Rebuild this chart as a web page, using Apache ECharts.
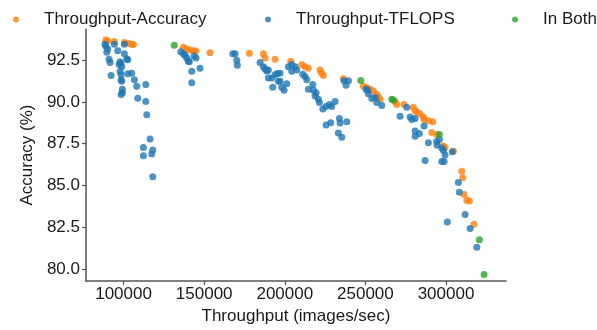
<!DOCTYPE html>
<html>
<head>
<meta charset="utf-8">
<script src="https://cdn.jsdelivr.net/npm/echarts@6/dist/echarts.min.js"></script>
<style>
  html, body { margin: 0; padding: 0; background: #fff; }
  #chart { width: 597px; height: 330px; }
</style>
</head>
<body>
<div id="chart"></div>
<script>
// tick labels
const xTicks = [100000, 150000, 200000, 250000, 300000];
const yTicks = [80.0, 82.5, 85.0, 87.5, 90.0, 92.5];

// Throughput-Accuracy (orange)
const accX = [88960, 90200, 94290, 100500, 102790, 105090, 106080, 137090, 139200, 141250,
  143300, 144970, 153660, 178030, 186720, 187770, 193970, 203710, 210540, 212580,
  214630, 221890, 222940, 223940, 236340, 248750, 250860, 252910, 254960, 257070,
  258060, 259110, 268410, 269470, 273990, 279760, 280820, 281870, 283920, 285970,
  286400, 289070, 291800, 291180, 294280, 298370, 299430, 304580, 309780, 310400,
  311210, 312890, 314500, 317410];
const accY = [93.72, 93.66, 93.63, 93.57, 93.53, 93.47, 93.45, 93.28, 93.18, 93.12,
  93.08, 93.06, 92.95, 92.93, 92.89, 92.64, 92.56, 92.44, 92.25, 92.12,
  92.02, 91.92, 91.73, 91.59, 91.39, 90.95, 90.85, 90.76, 90.66, 90.46,
  90.31, 90.17, 90.04, 89.85, 89.85, 89.69, 89.50, 89.40, 89.30, 89.11,
  88.95, 88.88, 88.82, 88.18, 88.05, 87.37, 87.27, 87.05, 85.85, 85.46,
  84.46, 84.11, 84.07, 82.67];

// Throughput-TFLOPS (blue)
const flopsX = [88520, 88960, 90200, 89580, 94290, 96400, 91010, 91630, 100500, 100500,
  101980, 102610, 97830, 98450, 97210, 98880, 97830, 98450, 98450, 98880,
  92250, 102610, 105090, 106700, 108190, 113770, 99260, 99260, 98450, 108810,
  113770, 114390, 116440, 112280, 118110, 117490, 112280, 118110,
  135480, 137090, 138150, 139200, 140200, 140810, 143730, 144970, 147450, 142300, 142300,
  167740, 169160, 170220, 170590,
  184670, 186720, 187770, 188830, 189820, 193970, 195400, 189820, 191930, 196030,
  192550, 198130, 199560, 201230, 202230, 204330, 206380, 204330, 207420, 197080, 197080,
  211150, 212580, 213630, 214630, 217360, 217740, 219400, 218780, 220830, 221450,
  223560, 225610, 227660, 229150, 231200, 225610, 228520, 233860, 234300, 238450,
  233240, 235350, 236780, 238020, 239450,
  250420, 251230, 251850, 253960, 256010, 257070, 260160, 271510, 275670, 277720,
  278770, 280820, 286400, 280820, 283490, 280820, 289070, 294150, 295900, 294460,
  297380, 298370, 299430, 303900, 287020, 297380, 298810, 307680, 308300, 311830,
  300850, 314940, 319090];
const flopsY = [93.47, 93.34, 93.18, 92.99, 93.47, 93.08, 92.56, 92.37, 93.47, 92.89,
  92.60, 92.54, 92.41, 92.31, 92.25, 92.12, 91.83, 91.63, 91.34, 91.24,
  91.59, 91.69, 91.73, 91.34, 90.95, 91.05, 90.76, 90.56, 90.46, 90.23,
  90.04, 89.24, 87.79, 87.27, 87.12, 86.88, 86.78, 85.52,
  93.02, 92.89, 92.79, 92.64, 92.44, 92.41, 92.76, 92.64, 92.02, 91.85, 91.15,
  92.89, 92.89, 92.50, 92.21,
  92.37, 92.12, 91.98, 91.86, 91.92, 91.63, 91.71, 91.44, 91.44, 91.24,
  90.88, 90.88, 90.70, 91.09, 92.12, 92.25, 92.12, 91.85, 91.92, 91.73, 91.24,
  91.67, 91.53, 91.34, 90.76, 91.05, 90.70, 90.56, 90.37, 90.17, 89.98,
  89.59, 89.73, 89.85, 89.73, 90.04, 88.63, 88.76, 89.01, 88.74, 88.82,
  88.14, 87.89, 91.28, 91.01, 91.28,
  90.76, 90.70, 90.50, 90.21, 90.27, 89.98, 89.79, 89.15, 89.69, 89.11,
  88.95, 89.01, 88.57, 88.27, 88.12, 87.95, 87.56, 87.63, 87.75, 87.41,
  87.25, 87.10, 86.83, 87.02, 86.49, 86.44, 86.44, 85.17, 84.59, 83.26,
  82.81, 82.42, 81.30];

// In Both (green)
const bothX = [131450, 247130, 266370, 267350, 295900, 320700, 323620];
const bothY = [93.41, 91.29, 90.17, 90.12, 88.05, 81.74, 79.66];

const font = 'Liberation Sans, Arial, sans-serif';
const axisCol = '#555';
const textCol = '#1a1a1a';

function pairs(xs, ys) {
  let out = [];
  for (let i = 0; i < xs.length; i++) {
    out.push([xs[i], ys[i]]);
  }
  return out;
}

function legendAt(name, left) {
  return {
    data: [name],
    left: left,
    top: 6,
    icon: 'circle',
    itemWidth: 6,
    itemHeight: 6,
    itemGap: 0,
    selectedMode: false,
    textStyle: { fontFamily: font, fontSize: 17, color: textCol, padding: [0, 0, 0, 20] }
  };
}

let chart = echarts.init(document.getElementById('chart'), null, { renderer: 'canvas' });
chart.setOption({
  animation: false,
  color: ['#ff7f0e', '#1f77b4', '#2ca02c'],
  grid: { left: 86, right: 91, top: 29, bottom: 41 },
  legend: [
    legendAt('Throughput-Accuracy', 8),
    legendAt('Throughput-TFLOPS', 260),
    legendAt('In Both', 507)
  ],
  xAxis: {
    type: 'value',
    min: 76700,
    max: 337200,
    name: 'Throughput (images/sec)',
    nameLocation: 'middle',
    nameGap: 27,
    nameTextStyle: { fontFamily: font, fontSize: 17, color: textCol },
    axisLine: { show: true, lineStyle: { color: axisCol, width: 1.5 } },
    axisTick: { show: true, length: 4, customValues: xTicks, lineStyle: { color: axisCol, width: 1.2 } },
    axisLabel: {
      customValues: xTicks, margin: 5, fontFamily: font, fontSize: 17, color: textCol,
      formatter: v => String(v)
    },
    splitLine: { show: false }
  },
  yAxis: {
    type: 'value',
    min: 79.27,
    max: 94.38,
    name: 'Accuracy (%)',
    nameLocation: 'middle',
    nameGap: 34,
    nameTextStyle: { fontFamily: font, fontSize: 17, color: textCol },
    axisLine: { show: true, lineStyle: { color: axisCol, width: 1.5 } },
    axisTick: { show: true, length: 4, customValues: yTicks, lineStyle: { color: axisCol, width: 1.2 } },
    axisLabel: {
      customValues: yTicks, margin: 6, fontFamily: font, fontSize: 17, color: textCol,
      formatter: v => v.toFixed(1)
    },
    splitLine: { show: false }
  },
  series: [
    { name: 'Throughput-Accuracy', type: 'scatter', symbolSize: 7, data: pairs(accX, accY) },
    { name: 'Throughput-TFLOPS', type: 'scatter', symbolSize: 7, data: pairs(flopsX, flopsY) },
    { name: 'In Both', type: 'scatter', symbolSize: 7, data: pairs(bothX, bothY) }
  ]
});
</script>
</body>
</html>
